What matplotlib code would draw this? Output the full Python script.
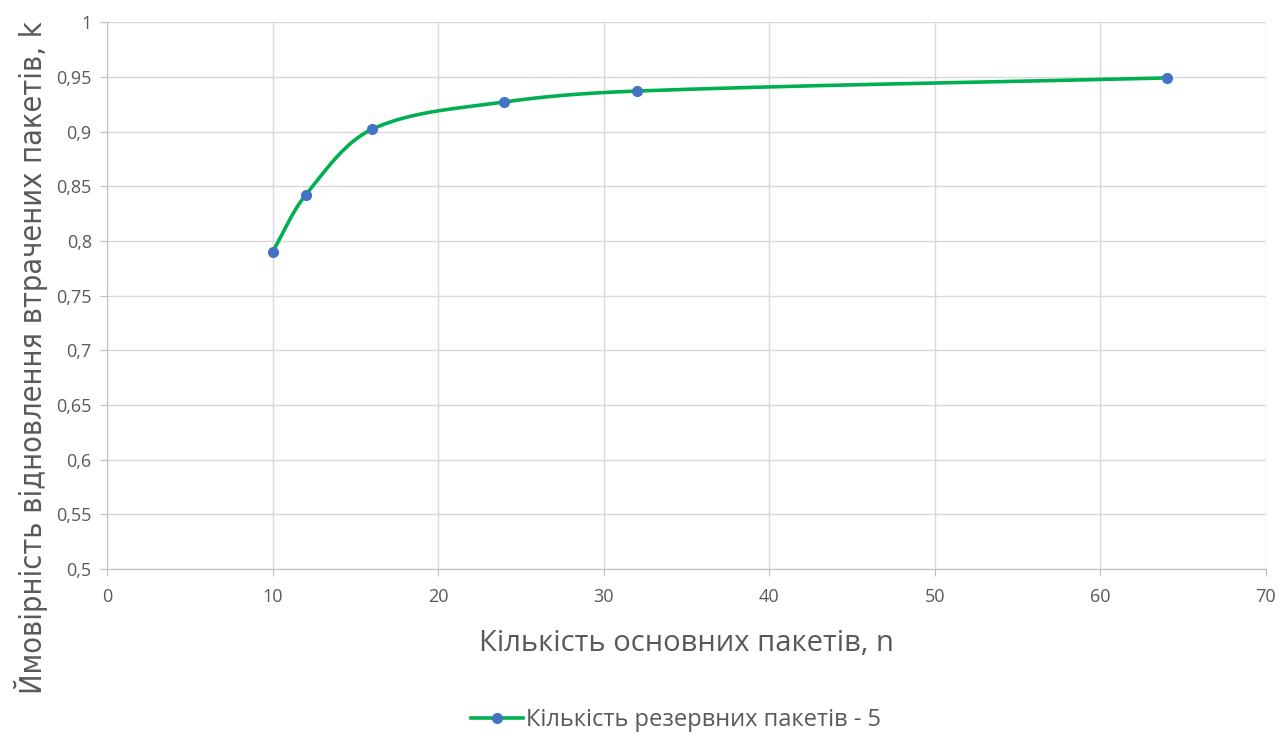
import numpy as np
import matplotlib
matplotlib.use("Agg")
import matplotlib.pyplot as plt
from matplotlib.ticker import FuncFormatter, MultipleLocator
from matplotlib.lines import Line2D

n_values = [10, 12, 16, 24, 32, 64]
k_values = [0.790, 0.842, 0.902, 0.927, 0.937, 0.949]
series_label = "Кількість резервних пакетів - 5"
x_label = "Кількість основних пакетів, n"
y_label = "Ймовірність відновлення втрачених пакетів, k"

XMIN, XMAX = 0, 70
YMIN, YMAX = 0.5, 1.0

fig = plt.figure(figsize=(12.8, 7.38), dpi=100)
ax = fig.add_axes([0.0836, 0.229, 0.9054, 0.741])

# smoothed line (chord-length scaled cubic Bezier) in pixel-like space
def smooth(xs, ys, steps=80):
    px = (np.array(xs, float) - XMIN) / (XMAX - XMIN) * 1159
    py = (np.array(ys, float) - YMIN) / (YMAX - YMIN) * 547
    P = np.column_stack([px, py])
    m = len(P)
    d = np.linalg.norm(np.diff(P, axis=0), axis=1)
    T = np.zeros_like(P)
    for i in range(m):
        if i == 0:
            T[i] = (P[1] - P[0]) / d[0]
        elif i == m - 1:
            T[i] = (P[-1] - P[-2]) / d[-1]
        else:
            T[i] = (P[i + 1] - P[i - 1]) / (d[i - 1] + d[i])
    out = []
    for i in range(m - 1):
        p1, p2 = P[i], P[i + 1]
        c1 = p1 + T[i] * d[i] / 3
        c2 = p2 - T[i + 1] * d[i] / 3
        t = np.linspace(0, 1, steps)[:, None]
        seg = ((1 - t) ** 3) * p1 + 3 * ((1 - t) ** 2) * t * c1 + 3 * (1 - t) * t ** 2 * c2 + t ** 3 * p2
        out.append(seg)
    S = np.vstack(out)
    sx = S[:, 0] / 1159 * (XMAX - XMIN) + XMIN
    sy = S[:, 1] / 547 * (YMAX - YMIN) + YMIN
    return sx, sy

sx, sy = smooth(n_values, k_values)
ax.plot(sx, sy, color="#00b050", lw=2.6, zorder=3, solid_capstyle="round")
ax.plot(n_values, k_values, "o", color="#4472c4", ms=7, zorder=4)

ax.set_xlim(XMIN, XMAX)
ax.set_ylim(YMIN, YMAX)
ax.xaxis.set_major_locator(MultipleLocator(10))
ax.yaxis.set_major_locator(MultipleLocator(0.05))
ax.yaxis.set_major_formatter(FuncFormatter(lambda v, p: (f"{v:.2f}".rstrip("0").rstrip(".")).replace(".", ",")))
ax.grid(True, color="#d9d9d9", lw=1)
ax.set_axisbelow(True)
for s in ["top", "right"]:
    ax.spines[s].set_visible(False)
for s in ["left", "bottom"]:
    ax.spines[s].set_color("#bfbfbf")
ax.tick_params(axis="both", colors="#bfbfbf", labelcolor="#595959", labelsize=13, length=5)
ax.tick_params(axis="x", pad=9)
ax.tick_params(axis="y", pad=6)
for lab in ax.get_xticklabels() + ax.get_yticklabels():
    lab.set_family(["Open Sans", "DejaVu Sans"])

ax.set_xlabel(x_label, fontsize=21, color="#595959", family=["Open Sans", "DejaVu Sans"], labelpad=16)
fig.text(0.024, 0.515, y_label, rotation=90, va="center", ha="center", fontsize=22,
         color="#595959", family="DejaVu Sans", fontstretch="condensed")

h = Line2D([], [], color="#00b050", lw=2.6, marker="o", markerfacecolor="#4472c4",
           markeredgecolor="#4472c4", ms=7)
fig.legend([h], [series_label], loc="center", bbox_to_anchor=(0.528, 0.024), frameon=False,
           prop={"family": ["Open Sans", "DejaVu Sans"], "size": 17}, labelcolor="#595959",
           handlelength=2.2, handletextpad=0.15)

fig.savefig("out.png", dpi=100)
